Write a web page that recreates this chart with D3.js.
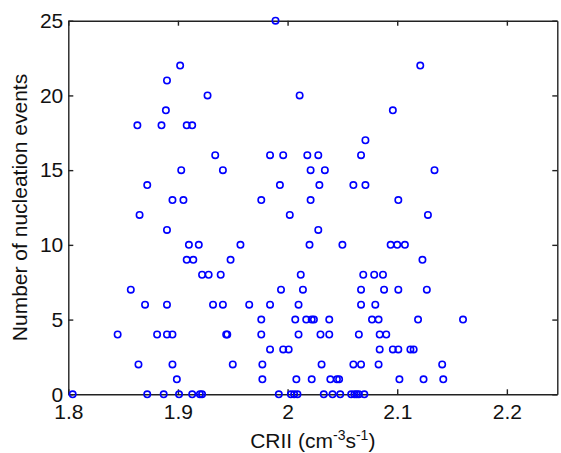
<!DOCTYPE html>
<html>
<head>
<meta charset="utf-8">
<script src="https://cdn.jsdelivr.net/npm/d3@7"></script>
<style>
  body { margin: 0; background: #fff; }
  svg text { font-family: "Liberation Sans", Arial, Helvetica, sans-serif; fill: #111; }
  .axis path, .axis line { stroke: #222; stroke-width: 1.4; }
  .axis text { font-size: 21px; }
</style>
</head>
<body>
<svg width="561" height="453"></svg>
<script>
// CRII value for each sampled day, one line per event count
var crii = [
  1.804, 1.872, 1.887, 1.901, 1.913, 1.920, 1.922, 1.992, 2.003, 2.006, 2.009, 2.033, 2.041, 2.048, 2.058, 2.061, 2.063, 2.065, 2.070,
  1.899, 1.977, 2.008, 2.022, 2.039, 2.045, 2.047, 2.102, 2.124, 2.142,
  1.864, 1.895, 1.950, 1.977, 2.031, 2.060, 2.067, 2.083, 2.141,
  1.984, 1.996, 2.001, 2.084, 2.096, 2.101, 2.112, 2.115,
  1.845, 1.881, 1.890, 1.895, 1.944, 1.945, 1.976, 2.010, 2.030, 2.038, 2.065, 2.084, 2.090,
  1.976, 2.007, 2.017, 2.022, 2.024, 2.038, 2.077, 2.083, 2.119, 2.160,
  1.870, 1.890, 1.932, 1.941, 1.965, 1.984, 2.010, 2.067, 2.080,
  1.857, 1.994, 2.014, 2.067, 2.088, 2.101, 2.127,
  1.922, 1.928, 1.939, 2.012, 2.069, 2.079, 2.087,
  1.908, 1.914, 1.948, 2.123,
  1.910, 1.919, 1.957, 2.020, 2.050, 2.094, 2.100, 2.107,
  1.890, 2.028,
  1.865, 2.002, 2.128,
  1.895, 1.905, 1.976, 2.021, 2.101,
  1.872, 1.993, 2.029, 2.060, 2.071,
  1.903, 1.941, 2.021, 2.034, 2.134,
  1.934, 1.984, 1.996, 2.018, 2.028, 2.067,
  2.071,
  1.863, 1.885, 1.908, 1.913,
  1.889, 2.096,
  1.927, 2.011,
  1.890,
  1.902, 2.121,
  1.989
];
var events = [
  0,0,0,0,0,0,0,0,0,0,0,0,0,0,0,0,0,0,0,
  1,1,1,1,1,1,1,1,1,1,
  2,2,2,2,2,2,2,2,2,
  3,3,3,3,3,3,3,3,
  4,4,4,4,4,4,4,4,4,4,4,4,4,
  5,5,5,5,5,5,5,5,5,5,
  6,6,6,6,6,6,6,6,6,
  7,7,7,7,7,7,7,
  8,8,8,8,8,8,8,
  9,9,9,9,
  10,10,10,10,10,10,10,10,
  11,11,
  12,12,12,
  13,13,13,13,13,
  14,14,14,14,14,
  15,15,15,15,15,
  16,16,16,16,16,16,
  17,
  18,18,18,18,
  19,19,
  20,20,
  21,
  22,22,
  25
];
var xTicks = [1.8, 1.9, 2, 2.1, 2.2];
var yTicks = [0, 5, 10, 15, 20, 25];

var data = crii.map(function(c, i) { return {crii: c, n: events[i]}; });

var svg = d3.select("svg"),
    x0 = 68.3, x1 = 557.3, y0 = 20.7, y1 = 394.3;

var x = d3.scaleLinear().domain([1.8, 2.246]).range([x0, x1]);
var y = d3.scaleLinear().domain([0, 25]).range([y1, y0]);

// box with inward ticks on all four sides
svg.append("g").attr("class", "axis")
   .attr("transform", "translate(0," + y1 + ")")
   .call(d3.axisBottom(x).tickValues(xTicks).tickSize(-5).tickSizeOuter(0).tickPadding(10)
     .tickFormat(function(d) { return d3.format("")(d); }));
svg.append("g").attr("class", "axis")
   .attr("transform", "translate(0," + y0 + ")")
   .call(d3.axisTop(x).tickValues(xTicks).tickSize(-5).tickSizeOuter(0).tickFormat(""));
svg.append("g").attr("class", "axis")
   .attr("transform", "translate(" + x0 + ",0)")
   .call(d3.axisLeft(y).tickValues(yTicks).tickSize(-5).tickSizeOuter(0).tickPadding(5));
svg.append("g").attr("class", "axis")
   .attr("transform", "translate(" + x1 + ",0)")
   .call(d3.axisRight(y).tickValues(yTicks).tickSize(-5).tickSizeOuter(0).tickFormat(""));

svg.selectAll(".axis text").attr("fill", "#111");

svg.selectAll(".pt")
   .data(data)
   .enter().append("circle")
   .attr("class", "pt")
   .attr("cx", function(d) { return x(d.crii); })
   .attr("cy", function(d) { return y(d.n); })
   .attr("r", 3.2)
   .attr("fill", "none")
   .attr("stroke", "#0000ff")
   .attr("stroke-width", 1.6);

// axis titles
var xt = svg.append("text")
   .attr("x", (x0 + x1) / 2)
   .attr("y", 448)
   .attr("text-anchor", "middle")
   .style("font-size", "21px");
xt.append("tspan").text("CRII (cm");
xt.append("tspan").attr("dy", -8).style("font-size", "14px").text("-3");
xt.append("tspan").attr("dy", 8).text("s");
xt.append("tspan").attr("dy", -8).style("font-size", "14px").text("-1");
xt.append("tspan").attr("dy", 8).text(")");

svg.append("text")
   .attr("transform", "translate(27," + (y0 + y1) / 2 + ") rotate(-90)")
   .attr("text-anchor", "middle")
   .style("font-size", "21px")
   .text("Number of nucleation events");
</script>
</body>
</html>
